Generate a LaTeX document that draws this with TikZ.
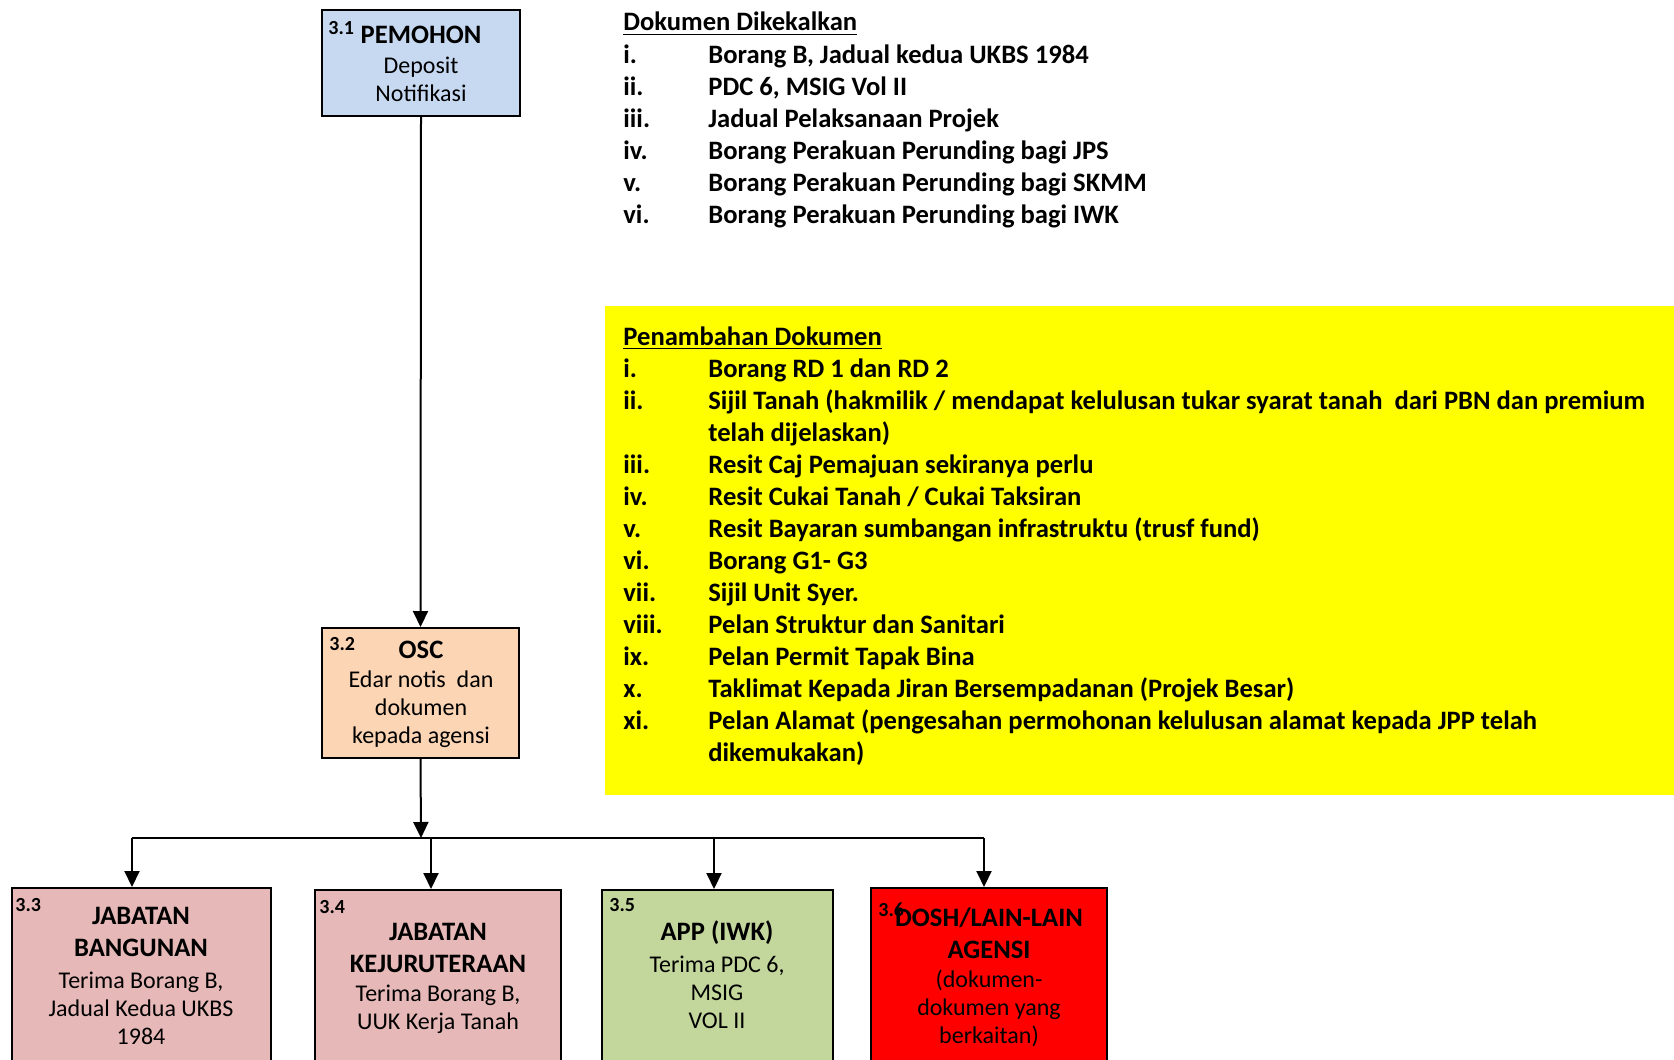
\documentclass[tikz,border=0pt]{standalone}
\usepackage{fontspec}
\setmainfont{Carlito}
\usetikzlibrary{arrows.meta,fit}

\definecolor{pemohonblue}{HTML}{C6D9F1}
\definecolor{oscpeach}{HTML}{FCD5B5}
\definecolor{jabatanpink}{HTML}{E6B9B8}
\definecolor{appgreen}{HTML}{C3D69B}
\definecolor{notayellow}{HTML}{FFFF00}
\definecolor{doshred}{HTML}{FF0000}

\tikzset{
  box/.style={draw=black, line width=1pt, inner sep=0pt},
  numlbl/.style={font=\fontsize{10}{11}\selectfont\bfseries, anchor=west, inner sep=0pt},
  boxtitle/.style={font=\fontsize{13.3}{16}\selectfont\bfseries, align=center, inner sep=0pt},
  boxbody/.style={font=\fontsize{12}{14}\selectfont, align=center, inner sep=0pt},
  listtxt/.style={font=\fontsize{13.3}{16}\selectfont\bfseries, anchor=west, inner sep=0pt,
    text height=9.5pt, text depth=3pt},
  flow/.style={line width=1pt, -{Triangle[width=7.5pt,length=8pt]}},
}

\begin{document}
\begin{tikzpicture}[x=0.5pt, y=-0.5pt]
	\useasboundingbox (0,0) rectangle (1674,1059);

	% boxes
	\node[box, fill=pemohonblue, fit={(322,10) (520,116)}] (pemohon) {};
	\node[box, fill=oscpeach, fit={(322,628) (519,758)}] (osc) {};
	\node[box, fill=jabatanpink, fit={(12,888) (271,1150)}] (jbangunan) {};
	\node[box, fill=jabatanpink, fit={(315,890) (561,1150)}] (jkerja) {};
	\node[box, fill=appgreen, fit={(602,890) (833,1150)}] (app) {};
	\node[box, fill=doshred, fit={(871,888) (1107,1150)}] (dosh) {};
	\node[fill=notayellow, inner sep=0pt, fit={(605,306) (1674,795)}] (addbox) {};

	% box texts
	\node[numlbl] (n31) at (328,28) {3.1};
	\node[boxtitle] (t31) at (421,35) {PEMOHON};
	\node[boxbody] (b31) at (421,79.5) {Deposit\\Notifikasi};

	\node[numlbl] (n32) at (329,644) {3.2};
	\node[boxtitle] (t32) at (421,650) {OSC};
	\node[boxbody] (b32) at (421,709.5) {Edar notis\ \ dan\\dokumen\\kepada agensi};

	\node[numlbl] (n33) at (15,905) {3.3};
	\node[boxtitle] (t33) at (141,932) {JABATAN\\BANGUNAN};
	\node[boxbody] (b33) at (141,1008) {Terima Borang B,\\Jadual Kedua UKBS\\1984};

	\node[numlbl] (n34) at (319,907) {3.4};
	\node[boxtitle] (t34) at (438,948) {JABATAN\\KEJURUTERAAN};
	\node[boxbody] (b34) at (438,1009) {Terima Borang B,\\UUK Kerja Tanah};

	\node[numlbl] (n35) at (609,905) {3.5};
	\node[boxtitle] (t35) at (717,933) {APP (IWK)};
	\node[boxbody] (b35) at (717,992.5) {Terima PDC 6,\\MSIG\\VOL II};

	\node[numlbl] (n36) at (878,910) {3.6};
	\node[boxtitle] (t36) at (989,933) {DOSH/LAIN-LAIN\\AGENSI};
	\node[boxbody] (b36) at (989,1008) {(dokumen-\\dokumen yang\\berkaitan)};

	% connectors
	\coordinate (barmid) at (421,838);
	\coordinate (jt33) at (132,838);
	\coordinate (jt34) at (431,838);
	\coordinate (jt35) at (714,838);
	\coordinate (jt36) at (984,838);
	\draw[flow] (pemohon.south) -- (osc.north);
	\draw[flow] (osc.south) -- (barmid);
	\draw[line width=1pt] (jt33) -- (jt36);
	\draw[flow] (jt33) -- (jt33 |- jbangunan.north);
	\draw[flow] (jt34) -- (jt34 |- jkerja.north);
	\draw[flow] (jt35) -- (jt35 |- app.north);
	\draw[flow] (jt36) -- (jt36 |- dosh.north);

	% dokumen dikekalkan
	\node[listtxt] (keephead) at (623,24.5) {\underline{Dokumen Dikekalkan}};
	\foreach \num/\txt [count=\k from 0] in {
		i./{Borang B, Jadual kedua UKBS 1984},
		ii./{PDC 6, MSIG Vol II},
		iii./{Jadual Pelaksanaan Projek},
		iv./{Borang Perakuan Perunding bagi JPS},
		v./{Borang Perakuan Perunding bagi SKMM},
		vi./{Borang Perakuan Perunding bagi IWK}}
	{
		\node[listtxt] (keepnum\k) at (623,{56.6+32.02*\k}) {\num};
		\node[listtxt] (keep\k) at (708,{56.6+32.02*\k}) {\txt};
	}

	% penambahan dokumen
	\node[listtxt] (addhead) at (623,338.5) {\underline{Penambahan Dokumen}};
	\foreach \num/\txt [count=\k from 0] in {
		i./{Borang RD 1 dan RD 2},
		ii./{Sijil Tanah (hakmilik / mendapat kelulusan tukar syarat tanah\ \ dari PBN dan premium},
		{}/{telah dijelaskan)},
		iii./{Resit Caj Pemajuan sekiranya perlu},
		iv./{Resit Cukai Tanah / Cukai Taksiran},
		v./{Resit Bayaran sumbangan infrastruktu (trusf fund)},
		vi./{Borang G1- G3},
		vii./{Sijil Unit Syer.},
		viii./{Pelan Struktur dan Sanitari},
		ix./{Pelan Permit Tapak Bina},
		x./{Taklimat Kepada Jiran Bersempadanan (Projek Besar)},
		xi./{Pelan Alamat (pengesahan permohonan kelulusan alamat kepada JPP telah},
		{}/{dikemukakan)}}
	{
		\node[listtxt] (addnum\k) at (623,{371+32.02*\k}) {\num};
		\node[listtxt] (add\k) at (708,{371+32.02*\k}) {\txt};
	}
\end{tikzpicture}
\end{document}
